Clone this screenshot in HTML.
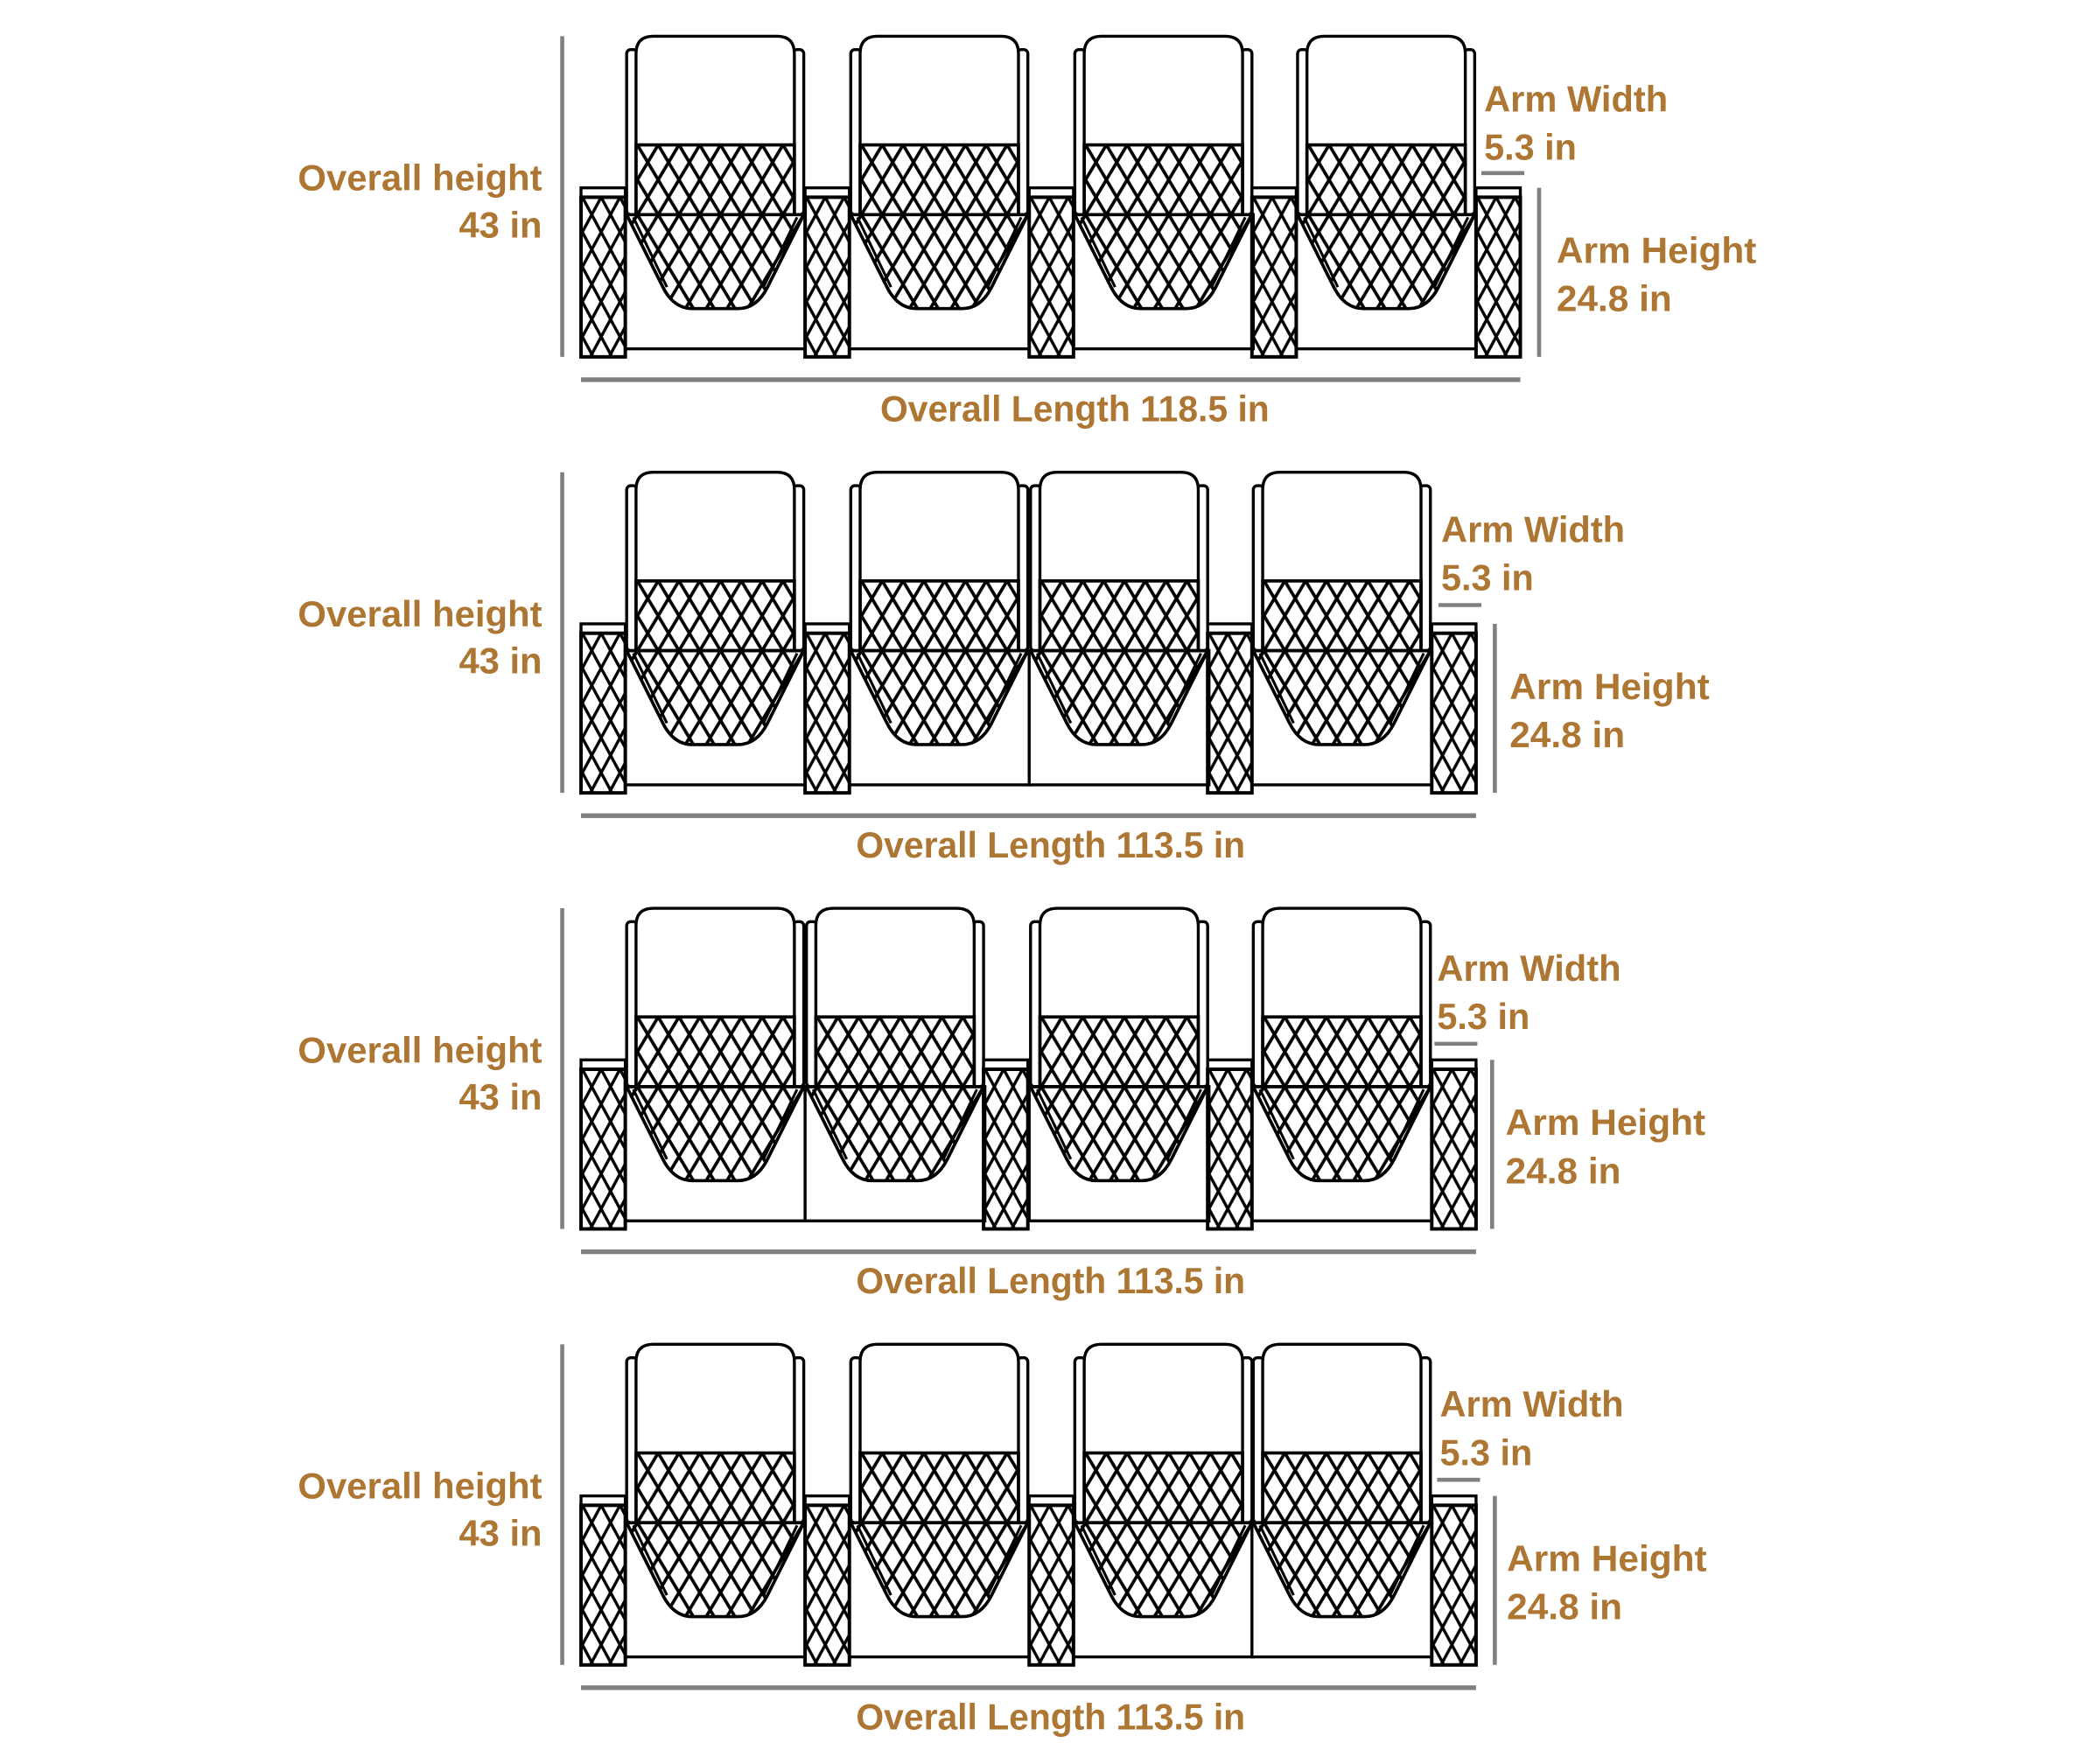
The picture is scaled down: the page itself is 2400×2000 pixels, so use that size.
<!DOCTYPE html>
<html><head><meta charset="utf-8">
<style>
html,body{margin:0;padding:0;background:#fff;}
svg{display:block;}
text{font-family:"Liberation Sans Narrow","Liberation Sans",sans-serif;font-weight:bold;fill:#AD7632;font-size:27px;}
</style></head><body>
<svg width="2400" height="2000" viewBox="0 0 1565 1304.4" preserveAspectRatio="none" xmlns="http://www.w3.org/2000/svg">
<defs>
<pattern id="hb" patternUnits="userSpaceOnUse" width="15.5" height="26" x="474" y="108">
<path d="M0,0 L15.5,26 M15.5,0 L0,26 M-15.5,0 L0,26 M15.5,0 L31,26 M0,-26 L15.5,0 M15.5,-26 L0,0 M0,26 L15.5,52 M15.5,26 L0,52" stroke="#000" stroke-width="2.4" fill="none"/>
</pattern>
<pattern id="hc" patternUnits="userSpaceOnUse" width="15.5" height="26" x="474" y="160">
<path d="M0,0 L15.5,26 M15.5,0 L0,26 M0,-26 L15.5,0 M15.5,-26 L0,0 M0,26 L15.5,52 M15.5,26 L0,52" stroke="#000" stroke-width="2.4" fill="none"/>
</pattern>
<pattern id="ha" patternUnits="userSpaceOnUse" width="14" height="26" x="435" y="147">
<path d="M0,0 L14,26 M14,0 L0,26 M0,-26 L14,0 M14,-26 L0,0 M0,26 L14,52 M14,26 L0,52" stroke="#000" stroke-width="2.2" fill="none"/>
</pattern>
<g id="seat">
<rect x="1" y="37" width="8" height="123" rx="3" fill="#fff" stroke="#000" stroke-width="2.2"/>
<rect x="125" y="37" width="8" height="123" rx="3" fill="#fff" stroke="#000" stroke-width="2.2"/>
<path d="M8,160 L8,40 Q8,27 21,27 L113,27 Q126,27 126,40 L126,160 Z" fill="#fff" stroke="#000" stroke-width="2.2"/>
<rect x="8" y="108" width="118" height="52" fill="url(#hb)" stroke="#000" stroke-width="2.4"/>
<rect x="0" y="160" width="134" height="100" fill="#fff" stroke="#000" stroke-width="2.2"/>
<path d="M1,160 L133,160 L106,214 Q98,230 84,230 L50,230 Q36,230 28,214 Z" fill="url(#hc)" stroke="#000" stroke-width="2.4"/>
<path d="M6,162 L31,214" stroke="#000" stroke-width="2" fill="none"/>
<path d="M128,162 L103,214" stroke="#000" stroke-width="2" fill="none"/>
</g>
<g id="arm">
<rect x="0" y="140" width="33" height="7" fill="#fff" stroke="#000" stroke-width="2.2"/>
<rect x="0" y="147" width="33" height="119" fill="url(#ha)" stroke="#000" stroke-width="2.6"/>
</g>
</defs>
<rect width="1565" height="1304.4" fill="#fff"/>

<!-- Row 1 -->
<g>
<line x1="419" y1="27" x2="419" y2="266" stroke="#808080" stroke-width="3"/>
<use href="#seat" x="466" y="0"/><use href="#seat" x="633" y="0"/><use href="#seat" x="800" y="0"/><use href="#seat" x="966" y="0"/>
<use href="#arm" x="433" y="0"/><use href="#arm" x="600" y="0"/><use href="#arm" x="767" y="0"/><use href="#arm" x="933" y="0"/><use href="#arm" x="1100" y="0"/>
<line x1="433" y1="283" x2="1133" y2="283" stroke="#808080" stroke-width="3.5"/>
<text x="656" y="314" textLength="290" lengthAdjust="spacingAndGlyphs">Overall Length 118.5 in</text>
<text x="404" y="142" text-anchor="end" textLength="182" lengthAdjust="spacingAndGlyphs">Overall height</text>
<text x="404" y="177" text-anchor="end" textLength="62" lengthAdjust="spacingAndGlyphs">43 in</text>
<text x="1106" y="83" textLength="137" lengthAdjust="spacingAndGlyphs">Arm Width</text>
<text x="1106" y="119" textLength="69" lengthAdjust="spacingAndGlyphs">5.3 in</text>
<line x1="1104" y1="129" x2="1136" y2="129" stroke="#808080" stroke-width="3"/>
<line x1="1147" y1="140" x2="1147" y2="266" stroke="#808080" stroke-width="3"/>
<text x="1160" y="196" textLength="149" lengthAdjust="spacingAndGlyphs">Arm Height</text>
<text x="1160" y="232" textLength="86" lengthAdjust="spacingAndGlyphs">24.8 in</text>
</g>

<!-- Row 2 -->
<g transform="translate(0,325)">
<line x1="419" y1="27" x2="419" y2="266" stroke="#808080" stroke-width="3"/>
<use href="#seat" x="466" y="0"/><use href="#seat" x="633" y="0"/><use href="#seat" x="767" y="0"/><use href="#seat" x="933" y="0"/>
<use href="#arm" x="433" y="0"/><use href="#arm" x="600" y="0"/><use href="#arm" x="900" y="0"/><use href="#arm" x="1067" y="0"/>
<line x1="433" y1="283" x2="1100" y2="283" stroke="#808080" stroke-width="3.5"/>
<text x="638" y="314" textLength="290" lengthAdjust="spacingAndGlyphs">Overall Length 113.5 in</text>
<text x="404" y="142" text-anchor="end" textLength="182" lengthAdjust="spacingAndGlyphs">Overall height</text>
<text x="404" y="177" text-anchor="end" textLength="62" lengthAdjust="spacingAndGlyphs">43 in</text>
<text x="1074" y="79" textLength="137" lengthAdjust="spacingAndGlyphs">Arm Width</text>
<text x="1074" y="115" textLength="69" lengthAdjust="spacingAndGlyphs">5.3 in</text>
<line x1="1072" y1="126" x2="1104" y2="126" stroke="#808080" stroke-width="3"/>
<line x1="1114" y1="140" x2="1114" y2="266" stroke="#808080" stroke-width="3"/>
<text x="1125" y="196" textLength="149" lengthAdjust="spacingAndGlyphs">Arm Height</text>
<text x="1125" y="232" textLength="86" lengthAdjust="spacingAndGlyphs">24.8 in</text>
</g>

<!-- Row 3 -->
<g transform="translate(0,650)">
<line x1="419" y1="27" x2="419" y2="266" stroke="#808080" stroke-width="3"/>
<use href="#seat" x="466" y="0"/><use href="#seat" x="600" y="0"/><use href="#seat" x="767" y="0"/><use href="#seat" x="933" y="0"/>
<use href="#arm" x="433" y="0"/><use href="#arm" x="733" y="0"/><use href="#arm" x="900" y="0"/><use href="#arm" x="1067" y="0"/>
<line x1="433" y1="283" x2="1100" y2="283" stroke="#808080" stroke-width="3.5"/>
<text x="638" y="314" textLength="290" lengthAdjust="spacingAndGlyphs">Overall Length 113.5 in</text>
<text x="404" y="142" text-anchor="end" textLength="182" lengthAdjust="spacingAndGlyphs">Overall height</text>
<text x="404" y="177" text-anchor="end" textLength="62" lengthAdjust="spacingAndGlyphs">43 in</text>
<text x="1071" y="81" textLength="137" lengthAdjust="spacingAndGlyphs">Arm Width</text>
<text x="1071" y="117" textLength="69" lengthAdjust="spacingAndGlyphs">5.3 in</text>
<line x1="1069" y1="128" x2="1101" y2="128" stroke="#808080" stroke-width="3"/>
<line x1="1112" y1="140" x2="1112" y2="266" stroke="#808080" stroke-width="3"/>
<text x="1122" y="196" textLength="149" lengthAdjust="spacingAndGlyphs">Arm Height</text>
<text x="1122" y="232" textLength="86" lengthAdjust="spacingAndGlyphs">24.8 in</text>
</g>

<!-- Row 4 -->
<g transform="translate(0,975)">
<line x1="419" y1="27" x2="419" y2="266" stroke="#808080" stroke-width="3"/>
<use href="#seat" x="466" y="0"/><use href="#seat" x="633" y="0"/><use href="#seat" x="800" y="0"/><use href="#seat" x="933" y="0"/>
<use href="#arm" x="433" y="0"/><use href="#arm" x="600" y="0"/><use href="#arm" x="767" y="0"/><use href="#arm" x="1067" y="0"/>
<line x1="433" y1="283" x2="1100" y2="283" stroke="#808080" stroke-width="3.5"/>
<text x="638" y="314" textLength="290" lengthAdjust="spacingAndGlyphs">Overall Length 113.5 in</text>
<text x="404" y="142" text-anchor="end" textLength="182" lengthAdjust="spacingAndGlyphs">Overall height</text>
<text x="404" y="177" text-anchor="end" textLength="62" lengthAdjust="spacingAndGlyphs">43 in</text>
<text x="1073" y="81" textLength="137" lengthAdjust="spacingAndGlyphs">Arm Width</text>
<text x="1073" y="117" textLength="69" lengthAdjust="spacingAndGlyphs">5.3 in</text>
<line x1="1071" y1="128" x2="1103" y2="128" stroke="#808080" stroke-width="3"/>
<line x1="1114" y1="140" x2="1114" y2="266" stroke="#808080" stroke-width="3"/>
<text x="1123" y="196" textLength="149" lengthAdjust="spacingAndGlyphs">Arm Height</text>
<text x="1123" y="232" textLength="86" lengthAdjust="spacingAndGlyphs">24.8 in</text>
</g>
</svg>
</body></html>
